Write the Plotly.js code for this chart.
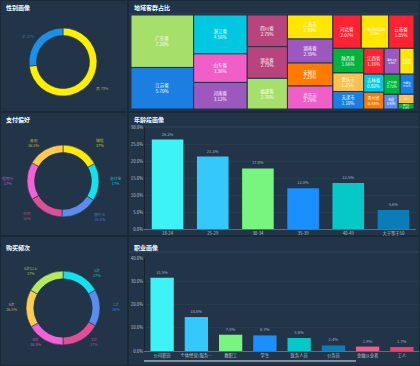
<!DOCTYPE html>
<html>
<head>
<meta charset="utf-8">
<script src="https://cdn.plot.ly/plotly-3.0.1.min.js"></script>
<style>
html,body{margin:0;padding:0;background:#1a2937;overflow:hidden;}
#chart{width:420px;height:366px;}
</style>
</head>
<body>
<div id="chart"></div>
<script>
// ---------- data ----------
const panelTitles = ['性别画像','地域客群占比','支付偏好','年龄段画像','购买频次','职业画像'];

const genderLabels = ['男','女'];
const genderVals = [73, 27];
const genderColors = ['#fff000','#1a90e8'];

const payLabels = ['微信','支付宝','银行卡','花呗','信用卡','其他'];
const payVals = [17, 17, 16.5, 16, 17, 16.5];
const payColors = ['#ffe80a','#12e2ec','#5b8cf0','#de4f98','#f262d6','#ffcb4d'];

const freqLabels = ['1次','2次','3次','4次','5次','5次以上'];
const freqVals = [17, 16, 17, 16.5, 16.5, 17];
const freqColors = ['#12e2ec','#5b8cf0','#de4f98','#f262d6','#ffcb4d','#b6ea5c'];

const regionNames = ['广东省','江苏省','浙江省','山东省','河南省','四川省','湖北省','福建省','上海市','湖南省','安徽省','北京市','河北省','广西壮族自治区','云南省','陕西省','江西省','黑龙江省','辽宁省','重庆市','天津市','山西省','贵州省','吉林省','内蒙古','新疆','甘肃省','海南省'];
const regionVals = [7.2,5.7,4.56,3.36,3.12,2.79,2.79,2.7,2.39,2.39,2.29,2.29,2.07,2.0,1.85,1.66,1.16,0.89,0.72,1.25,1.18,0.8,0.74,0.8,0.61,0.46,0.32,0.19];
const regionColors = ['#a6e06b','#1a7fe0','#00c8e0','#f05ec8','#9d58c0','#b8447e','#b8447e','#a6e06b','#ffe600','#9d58c0','#ff7b00','#f05ec8','#ff2233','#ffe600','#ff2233','#00b33c','#ff2233','#9d58c0','#00b33c','#ffc04d','#1a7fe0','#ffe600','#ff7b00','#00c8e0','#1a7fe0','#5b8cf0','#ffc04d','#00b33c'];

const ageCats = ['18-24','25-29','30-34','35-39','40-49','大于等于50'];
const ageVals = [26.3, 21.3, 17.8, 12.0, 13.5, 5.6];
const ageColors = ['#3ef3f5','#35c8fa','#78f57e','#1a90ff','#06c8c8','#0a7cb8'];

const jobCats = ['公司职员','个体经营/服务…','教职工','学生','医务人员','公务员','金融从业者','工人'];
const jobVals = [31.5, 14.6, 7.0, 6.7, 5.6, 2.4, 1.9, 1.7];
const jobColors = ['#3ef3f5','#35c8fa','#78f57e','#1a90ff','#06c8c8','#0a7cb8','#f0608c','#e8446e'];

// ---------- helpers ----------
const W = 420, H = 366;
const X = px => px / W;
const Y = py => 1 - py / H;
const FONT = '"Noto Sans CJK SC", "Noto Sans", sans-serif';
const PANEL = '#223447';

function donut(labels, vals, colors, cx, cy, r, hole) {
  return {
    type: 'pie', labels: labels, values: vals, sort: false, direction: 'clockwise', rotation: 0,
    hole: hole, textinfo: 'none', hoverinfo: 'label+percent', showlegend: false,
    marker: {colors: colors, line: {color: PANEL, width: 0.6}},
    domain: {x: [X(cx - r), X(cx + r)], y: [Y(cy + r), Y(cy - r)]}
  };
}

const traces = [];
traces.push(donut(genderLabels, genderVals, genderColors, 63, 62, 34, 0.78));
traces.push(donut(payLabels, payVals, payColors, 63, 181, 36, 0.79));
traces.push(donut(freqLabels, freqVals, freqColors, 63, 308, 37, 0.79));

traces.push({
  type: 'treemap', labels: regionNames, parents: regionNames.map(() => ''), values: regionVals,
  text: regionVals.map(v => v.toFixed(2) + '%'),
  textinfo: 'label+text', textposition: 'middle center',
  textfont: {size: 4.5, color: '#ffffff', family: FONT},
  marker: {colors: regionColors, line: {color: PANEL, width: 1}, pad: {t: 0, l: 0, r: 0, b: 0}},
  tiling: {packing: 'squarify', squarifyratio: 1.618, pad: 0},
  pathbar: {visible: false}, sort: true,
  domain: {x: [X(131), X(414)], y: [Y(109), Y(15)]},
  hoverinfo: 'label+value'
});

traces.push({
  type: 'bar', x: ageCats, y: ageVals, xaxis: 'x', yaxis: 'y',
  marker: {color: ageColors}, width: 0.7,
  text: ageVals.map(v => v.toFixed(1) + '%'), textposition: 'outside', cliponaxis: false,
  textfont: {size: 4, color: '#9fb4c8', family: FONT}, showlegend: false
});
traces.push({
  type: 'bar', x: jobCats, y: jobVals, xaxis: 'x2', yaxis: 'y2',
  marker: {color: jobColors}, width: 0.68,
  text: jobVals.map(v => v.toFixed(1) + '%'), textposition: 'outside', cliponaxis: false,
  textfont: {size: 4, color: '#9fb4c8', family: FONT}, showlegend: false
});

// panels
const panels = [[1, 1, 127, 111], [129, 1, 419, 111], [1, 113, 127, 235], [129, 113, 419, 235], [1, 237, 127, 365], [129, 237, 419, 365]];
const titlePos = [[4, 7], [132, 7], [4, 120], [132, 120], [4, 247], [132, 247]];
const shapes = [];
panels.forEach(p => {
  shapes.push({type: 'rect', xref: 'paper', yref: 'paper', x0: X(p[0]), x1: X(p[2]), y0: Y(p[3]), y1: Y(p[1]),
    fillcolor: PANEL, line: {width: 0}, layer: 'below'});
});
[[129, 419, 127], [129, 419, 252], [129, 419, 14]].forEach(l => {
  shapes.push({type: 'line', xref: 'paper', yref: 'paper', x0: X(l[0]), x1: X(l[1]), y0: Y(l[2]), y1: Y(l[2]),
    line: {color: '#2f465c', width: 1}, layer: 'below'});
});
// data zoom track for occupation chart
shapes.push({type: 'line', xref: 'paper', yref: 'paper', x0: X(144), x1: X(356), y0: Y(361), y1: Y(361),
  line: {color: '#7f8ca0', width: 2}});

const annotations = titlePos.map((t, i) => ({
  xref: 'paper', yref: 'paper', x: X(t[0]), y: Y(t[1]), xanchor: 'left', yanchor: 'middle',
  text: '<b>' + panelTitles[i] + '</b>', showarrow: false, font: {size: 6, color: '#ffffff', family: FONT}
}));

function lab(txt, px, py, color) {
  annotations.push({xref: 'paper', yref: 'paper', x: X(px), y: Y(py), xanchor: 'center', yanchor: 'middle',
    text: txt, showarrow: false, font: {size: 3.8, color: color, family: FONT}, opacity: 0.75});
}
// donut outside labels
lab(genderLabels[1] + ' ' + genderVals[1] + '%', 28, 36, genderColors[1]);
lab(genderLabels[0] + ' ' + genderVals[0] + '%', 102, 88, '#c8d050');
const payPos = [[100, 143], [116, 181], [100, 217], [27, 216], [8, 181], [33, 143]];
payLabels.forEach((l, i) => lab(l + '<br>' + payVals[i] + '%', payPos[i][0], payPos[i][1], payColors[i]));
const freqPos = [[97, 273], [116, 307], [94, 342], [35, 342], [11, 307], [31, 271]];
freqLabels.forEach((l, i) => lab(l + '<br>' + freqVals[i] + '%', freqPos[i][0], freqPos[i][1], freqColors[i]));

const axisY = {
  tickformat: '.1f', ticksuffix: '%', tickfont: {size: 4.3, color: '#b8c4d2', family: FONT},
  showgrid: true, gridcolor: 'rgba(255,255,255,0.04)', zeroline: false, showline: true,
  linecolor: 'rgba(20,30,40,0.8)', linewidth: 1, ticks: '', fixedrange: true
};
const axisX = {
  tickfont: {size: 4.3, color: '#b8c4d2', family: FONT}, showline: true, linecolor: '#5d6f82', linewidth: 1,
  ticks: '', showgrid: false, fixedrange: true
};

const layout = {
  width: W, height: H, margin: {l: 0, r: 0, t: 0, b: 0},
  paper_bgcolor: '#1a2937', plot_bgcolor: 'rgba(0,0,0,0)',
  font: {family: FONT, color: '#ffffff'},
  showlegend: false, bargap: 0.3,
  xaxis: Object.assign({}, axisX, {domain: [X(145), X(416)], anchor: 'y'}),
  yaxis: Object.assign({}, axisY, {domain: [Y(229), Y(127)], range: [0, 30], dtick: 5, anchor: 'x'}),
  xaxis2: Object.assign({}, axisX, {domain: [X(145), X(419)], anchor: 'y2'}),
  yaxis2: Object.assign({}, axisY, {domain: [Y(351), Y(258)], range: [0, 40], dtick: 10, anchor: 'x2'}),
  shapes: shapes, annotations: annotations
};

Plotly.newPlot('chart', traces, layout, {displayModeBar: false, staticPlot: true});
</script>
</body>
</html>
